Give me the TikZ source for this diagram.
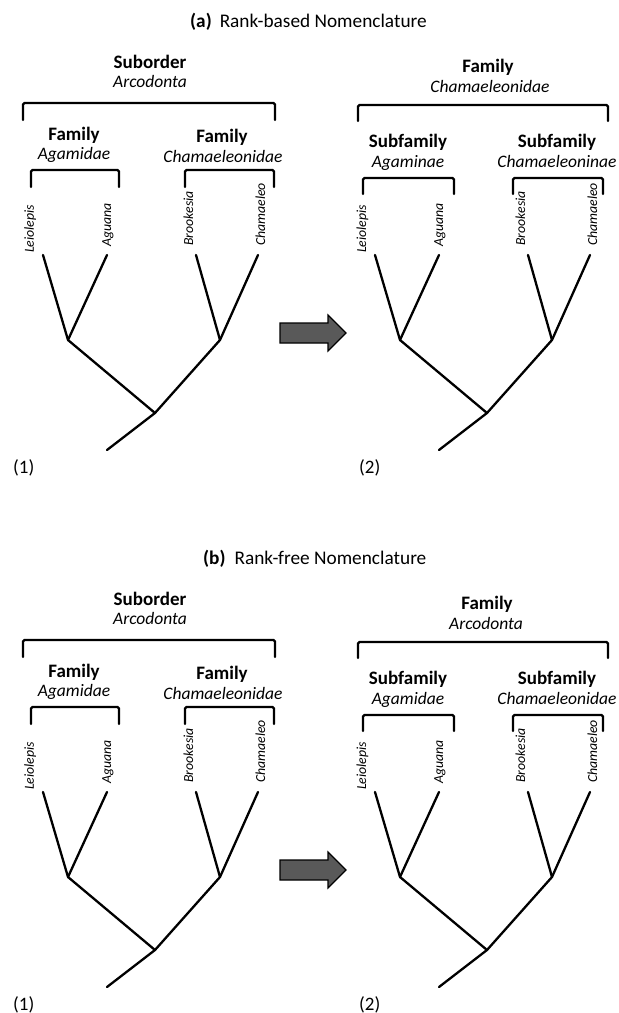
\documentclass[tikz,border=0pt]{standalone}
\usepackage{fontspec}
\setmainfont{Carlito}
\begin{document}
\begin{tikzpicture}[x=1pt,y=-1pt,
  branch/.style={line width=2.3pt, line cap=round},
  brack/.style={line width=2.4pt, rounded corners=1.5pt, line cap=round},
  grp/.style={font=\fontsize{17.5}{20}\selectfont, anchor=base, inner sep=0pt},
  rank/.style={font=\fontsize{19}{22}\selectfont\bfseries, anchor=base, inner sep=0pt},
  ttl/.style={font=\fontsize{19.3}{22}\selectfont, anchor=base west, inner sep=0pt},
  leaf/.style={font=\fontsize{13.8}{16}\selectfont\itshape, rotate=90, anchor=base west, inner sep=0pt},
  num/.style={font=\fontsize{19}{22}\selectfont, anchor=base west, inner sep=0pt},
  bigarrow/.style={fill=black!65, draw=black, line width=1.2pt, line join=miter}]
\useasboundingbox (0,0) rectangle (619,1013);

% titles
\node[ttl] (ta) at (190,27) {\textbf{(a)}\hspace{8pt}Rank-based Nomenclature};
\node[ttl] (tb) at (203,564) {\textbf{(b)}\hspace{9pt}Rank-free Nomenclature};

% panel (a) group labels
\node[rank] (a-so) at (150,68) {Suborder};
\node[grp] (a-soN) at (150,87) {\itshape Arcodonta};
\node[rank] (a-f1) at (74,140) {Family};
\node[grp] (a-f1N) at (74,159) {\itshape Agamidae};
\node[rank] (a-f2) at (222,142) {Family};
\node[grp] (a-f2N) at (223,162) {\itshape Chamaeleonidae};
\node[rank] (a-F) at (488,72) {Family};
\node[grp] (a-FN) at (490,92) {\itshape Chamaeleonidae};
\node[rank] (a-s1) at (408,147) {Subfamily};
\node[grp] (a-s1N) at (408,167) {\itshape Agaminae};
\node[rank] (a-s2) at (557,147) {Subfamily};
\node[grp] (a-s2N) at (557,167) {\itshape Chamaeleoninae};

% panel (b) group labels
\node[rank] (b-so) at (150,605) {Suborder};
\node[grp] (b-soN) at (150,624) {\itshape Arcodonta};
\node[rank] (b-f1) at (74,677) {Family};
\node[grp] (b-f1N) at (74,696) {\itshape Agamidae};
\node[rank] (b-f2) at (222,679) {Family};
\node[grp] (b-f2N) at (223,699) {\itshape Chamaeleonidae};
\node[rank] (b-F) at (487,609) {Family};
\node[grp] (b-FN) at (486,629) {\itshape Arcodonta};
\node[rank] (b-s1) at (408,684) {Subfamily};
\node[grp] (b-s1N) at (408,704) {\itshape Agamidae};
\node[rank] (b-s2) at (557,684) {Subfamily};
\node[grp] (b-s2N) at (557,704) {\itshape Chamaeleonidae};

\foreach \p/\dy in {a/0,b/537}{
 \begin{scope}[shift={(0,\dy)}]
  % brackets, left panel
  \coordinate (\p-B1a) at (23,120);  \coordinate (\p-B1b) at (275,120);
  \coordinate (\p-B2a) at (31,187);  \coordinate (\p-B2b) at (119,187);
  \coordinate (\p-B3a) at (185,187); \coordinate (\p-B3b) at (274,187);
  \draw[brack] (\p-B1a) -- ++(0,-17) -| (\p-B1b);
  \draw[brack] (\p-B2a) -- ++(0,-17) -| (\p-B2b);
  \draw[brack] (\p-B3a) -- ++(0,-17) -| (\p-B3b);
  % brackets, right panel
  \coordinate (\p-C1a) at (358,121); \coordinate (\p-C1b) at (608,121);
  \coordinate (\p-C2a) at (363,194); \coordinate (\p-C2b) at (454,194);
  \coordinate (\p-C3a) at (513,194); \coordinate (\p-C3b) at (603,194);
  \draw[brack] (\p-C1a) -- ++(0,-16) -| (\p-C1b);
  \draw[brack] (\p-C2a) -- ++(0,-16) -| (\p-C2b);
  \draw[brack] (\p-C3a) -- ++(0,-16) -| (\p-C3b);
  % trees
  \foreach \s/\dx in {L/0,R/332}{
   \begin{scope}[shift={(\dx,0)}]
    \coordinate (\p\s-t1) at (43,255);
    \coordinate (\p\s-t2) at (107,255);
    \coordinate (\p\s-t3) at (196,255);
    \coordinate (\p\s-t4) at (258,255);
    \coordinate (\p\s-n1) at (68,340);
    \coordinate (\p\s-n2) at (220,340);
    \coordinate (\p\s-r) at (155,413);
    \coordinate (\p\s-s) at (107,450);
    \draw[branch] (\p\s-t1) -- (\p\s-n1);
    \draw[branch] (\p\s-t2) -- (\p\s-n1);
    \draw[branch] (\p\s-t3) -- (\p\s-n2);
    \draw[branch] (\p\s-t4) -- (\p\s-n2);
    \draw[branch] (\p\s-n1) -- (\p\s-r);
    \draw[branch] (\p\s-n2) -- (\p\s-r);
    \draw[branch] (\p\s-r) -- (\p\s-s);
    \node[leaf] (\p\s-l1) at (34,253) {Leiolepis};
    \node[leaf] (\p\s-l2) at (111,247) {Aguana};
    \node[leaf] (\p\s-l3) at (193,246) {Brookesia};
    \node[leaf] (\p\s-l4) at (265,246) {Chamaeleo};
   \end{scope}
  }
  \node[num] (\p-one) at (13,473) {(1)};
  \node[num] (\p-two) at (359,473) {(2)};
  % arrow
  \draw[bigarrow] (280,323) -- (328,323) -- (328,315) -- (346,333) -- (328,351) -- (328,343) -- (280,343) -- cycle;
 \end{scope}
}
\end{tikzpicture}
\end{document}
